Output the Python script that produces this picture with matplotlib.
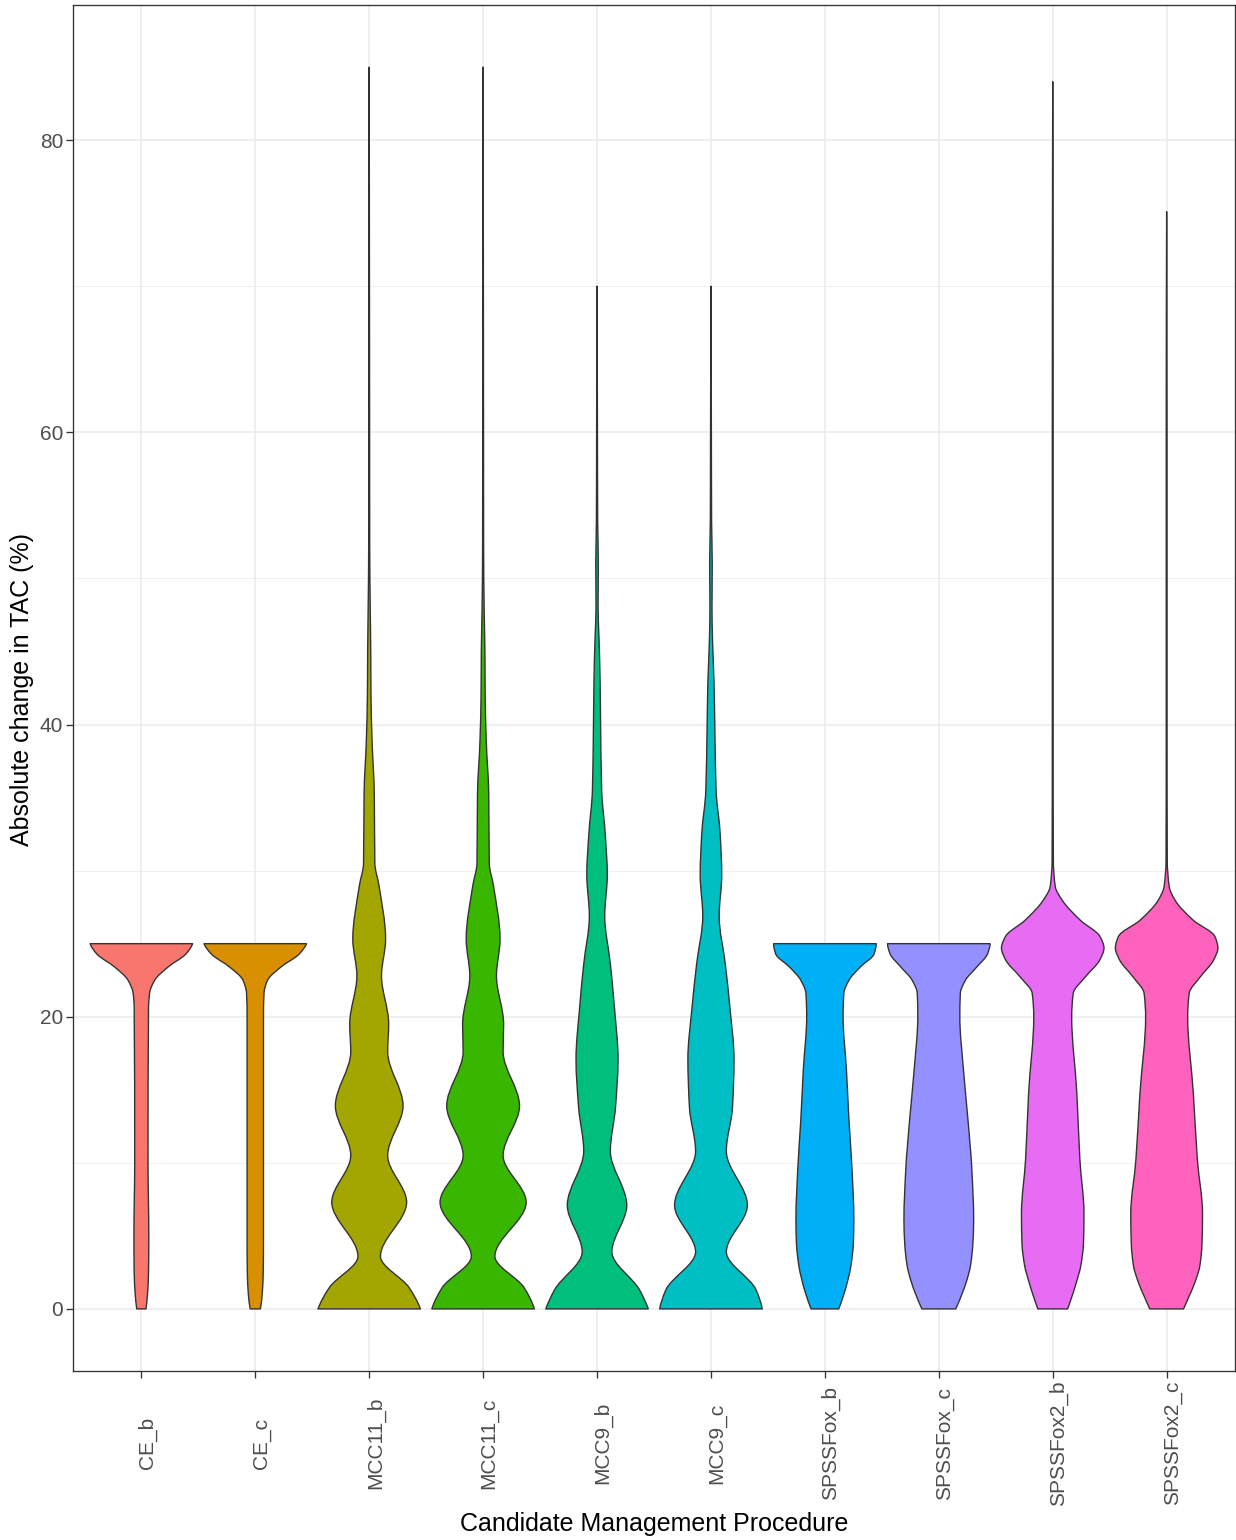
import numpy as np
import matplotlib
matplotlib.use("Agg")
import matplotlib.pyplot as plt
from matplotlib.path import Path
from matplotlib.patches import PathPatch
import matplotlib.transforms as mtransforms

# ---------------- data ----------------
categories = ["CE_b", "CE_c", "MCC11_b", "MCC11_c", "MCC9_b", "MCC9_c",
              "SPSSFox_b", "SPSSFox_c", "SPSSFox2_b", "SPSSFox2_c"]
fill_colors = ["#F8766D", "#D89000", "#A3A500", "#39B600", "#00BF7D",
               "#00BFC4", "#00B0F6", "#9590FF", "#E76BF3", "#FF62BC"]

# violin density profiles: y level (%) and relative half-width (1 = widest)
ce_b_y = [0, 1, 2.5, 5, 10, 20.6, 21.6, 22.5, 23.4, 24.3, 25.0]
ce_b_w = [0.09, 0.12, 0.14, 0.145, 0.13, 0.14, 0.16, 0.26, 0.52, 0.87, 1.0]
ce_c_y = [0, 1, 2.5, 5, 10, 20.0, 21.6, 22.5, 23.4, 24.3, 25.0]
ce_c_w = [0.10, 0.135, 0.155, 0.16, 0.16, 0.16, 0.17, 0.24, 0.50, 0.86, 1.0]

mcc11_y = [0, 1.45, 3.6, 7.3, 10.5, 13.9, 17.6, 19.5, 22.8, 25.3, 29.0, 30.5,
           35.2, 39.0, 42, 45, 48, 52, 60, 85]
mcc11_b_w = [1.0, 0.78, 0.22, 0.73, 0.36, 0.66, 0.36, 0.38, 0.24, 0.32, 0.19, 0.11,
             0.10, 0.055, 0.035, 0.03, 0.02, 0.01, 0.008, 0.0]
mcc11_c_w = [1.0, 0.80, 0.23, 0.84, 0.39, 0.71, 0.39, 0.40, 0.26, 0.33, 0.20, 0.12,
             0.11, 0.06, 0.04, 0.035, 0.02, 0.01, 0.008, 0.0]

mcc9_y = [0, 1.3, 3.9, 7.1, 10.8, 13.8, 17.1, 20.6, 23.6, 26.9, 29.7, 32.5,
          35.5, 39.9, 42.9, 45.8, 48, 51, 54, 60, 70]
mcc9_b_w = [1.0, 0.83, 0.29, 0.58, 0.26, 0.36, 0.41, 0.34, 0.26, 0.15, 0.20, 0.16,
            0.09, 0.07, 0.06, 0.04, 0.02, 0.025, 0.012, 0.008, 0.0]
mcc9_c_w = [1.0, 0.88, 0.30, 0.71, 0.30, 0.42, 0.45, 0.37, 0.28, 0.16, 0.21, 0.18,
            0.10, 0.075, 0.06, 0.03, 0.02, 0.025, 0.012, 0.008, 0.0]

spssfox_y = [0, 1.0, 2.0, 3.0, 4.5, 6.1, 9.5, 12.9, 16.4, 20.0, 21.6, 22.5, 23.4, 24.3, 25.0]
spssfox_b_w = [0.27, 0.37, 0.45, 0.51, 0.555, 0.565, 0.53, 0.47, 0.42, 0.355, 0.37, 0.47,
               0.69, 0.96, 1.0]
spssfox_c_w = [0.33, 0.45, 0.55, 0.62, 0.665, 0.68, 0.645, 0.57, 0.48, 0.41, 0.42, 0.52,
               0.74, 0.95, 1.0]

spssfox2_b_y = [0, 0.8, 1.8, 3.0, 4.5, 6.5, 10.2, 14.8, 20.0, 21.6, 22.7, 23.9, 24.7, 25.5,
                26.6, 28.0, 28.9, 30.7, 40, 60, 84]
spssfox2_b_w = [0.29, 0.37, 0.46, 0.55, 0.60, 0.61, 0.53, 0.47, 0.37, 0.40, 0.63, 0.92, 1.0,
                0.92, 0.54, 0.18, 0.05, 0.012, 0.008, 0.008, 0.0]
spssfox2_c_y = [0, 0.8, 1.8, 3.0, 4.5, 6.5, 10.2, 14.8, 20.0, 21.6, 22.7, 23.9, 24.7, 25.5,
                26.6, 28.0, 28.9, 30.7, 40, 60, 75.1]
spssfox2_c_w = [0.33, 0.43, 0.55, 0.65, 0.69, 0.70, 0.60, 0.52, 0.41, 0.44, 0.65, 0.92, 1.0,
                0.94, 0.52, 0.16, 0.05, 0.012, 0.008, 0.008, 0.0]

profiles = [
    (ce_b_y, ce_b_w), (ce_c_y, ce_c_w),
    (mcc11_y, mcc11_b_w), (mcc11_y, mcc11_c_w),
    (mcc9_y, mcc9_b_w), (mcc9_y, mcc9_c_w),
    (spssfox_y, spssfox_b_w), (spssfox_y, spssfox_c_w),
    (spssfox2_b_y, spssfox2_b_w), (spssfox2_c_y, spssfox2_c_w),
]

y_ticks = [0, 20, 40, 60, 80]
y_minor = [10, 30, 50, 70]

x_title = "Candidate Management Procedure"
y_title = "Absolute change in TAC (%)"

# ---------------- helpers ----------------
def pchip_slopes(x, y):
    x = np.asarray(x, float); y = np.asarray(y, float)
    n = len(x)
    h = np.diff(x); d = np.diff(y) / h
    m = np.zeros(n)
    if n == 2:
        m[:] = d[0]
        return m
    for k in range(1, n - 1):
        if d[k - 1] * d[k] <= 0:
            m[k] = 0.0
        else:
            w1 = 2 * h[k] + h[k - 1]
            w2 = h[k] + 2 * h[k - 1]
            m[k] = (w1 + w2) / (w1 / d[k - 1] + w2 / d[k])

    def end(h0, h1, d0, d1):
        s = ((2 * h0 + h1) * d0 - h0 * d1) / (h0 + h1)
        if np.sign(s) != np.sign(d0):
            s = 0.0
        elif np.sign(d0) != np.sign(d1) and abs(s) > abs(3 * d0):
            s = 3 * d0
        return s
    m[0] = end(h[0], h[1], d[0], d[1])
    m[-1] = end(h[-1], h[-2], d[-1], d[-2])
    return m


def violin_path(pos, ys, ws, half=0.45):
    ys = np.asarray(ys, float); ws = np.asarray(ws, float)
    m = pchip_slopes(ys, ws)
    verts = [(pos + half * ws[0], ys[0])]
    codes = [Path.MOVETO]
    segs = []
    for i in range(len(ys) - 1):
        h = ys[i + 1] - ys[i]
        c1 = (ws[i] + m[i] * h / 3, ys[i] + h / 3)
        c2 = (ws[i + 1] - m[i + 1] * h / 3, ys[i + 1] - h / 3)
        segs.append((c1, c2))
        verts += [(pos + half * c1[0], c1[1]), (pos + half * c2[0], c2[1]),
                  (pos + half * ws[i + 1], ys[i + 1])]
        codes += [Path.CURVE4] * 3
    verts.append((pos - half * ws[-1], ys[-1]))
    codes.append(Path.LINETO)
    for i in range(len(ys) - 2, -1, -1):
        c1, c2 = segs[i]
        verts += [(pos - half * c2[0], c2[1]), (pos - half * c1[0], c1[1]),
                  (pos - half * ws[i], ys[i])]
        codes += [Path.CURVE4] * 3
    verts.append(verts[0])
    codes.append(Path.CLOSEPOLY)
    return Path(verts, codes)

# ---------------- figure ----------------
plt.rcParams["font.family"] = ["Liberation Sans", "DejaVu Sans"]

fig = plt.figure(figsize=(12.36, 15.40), dpi=100)
ax = fig.add_axes([73 / 1236, (1540 - 1371) / 1540, (1235 - 73) / 1236, (1371 - 5) / 1540])

positions = np.arange(1, len(categories) + 1)
for pos, (ys, ws), col in zip(positions, profiles, fill_colors):
    patch = PathPatch(violin_path(pos, ys, ws), facecolor=col, edgecolor="#333333",
                      linewidth=1.0, zorder=3, joinstyle="round")
    ax.add_patch(patch)

ax.set_xlim(0.4, len(categories) + 0.6)
ax.set_ylim(-4.25, 89.25)

ax.set_yticks(y_ticks)
ax.set_yticks(y_minor, minor=True)
ax.set_yticklabels([str(v) for v in y_ticks])
ax.set_xticks(positions)
ax.set_xticklabels(categories, rotation=90, va="center", ha="center")

ax.grid(True, which="major", color="#EBEBEB", linewidth=1.1, zorder=0)
ax.grid(True, which="minor", axis="y", color="#EBEBEB", linewidth=0.55, zorder=0)
ax.set_axisbelow(True)

for sp in ax.spines.values():
    sp.set_color("#333333")
    sp.set_linewidth(0.95)

ax.tick_params(axis="both", which="major", length=5, width=0.95, color="#333333",
               labelsize=15, labelcolor="#4D4D4D")
ax.tick_params(axis="y", which="major", pad=2)
ax.tick_params(axis="x", which="major", pad=47)
ax.tick_params(which="minor", length=0)

offset = mtransforms.ScaledTranslation(6 / 100, 0, fig.dpi_scale_trans)
for lbl in ax.get_xticklabels():
    lbl.set_transform(lbl.get_transform() + offset)

fig.text((73 + 1235) / 2 / 1236, 1 - 1524 / 1540, x_title, ha="center", va="center",
         fontsize=18, color="black")
fig.text(22 / 1236, 1 - 689 / 1540, y_title, ha="center", va="center", rotation=90,
         fontsize=18, color="black")

fig.savefig("out.png", dpi=100, facecolor="white")
